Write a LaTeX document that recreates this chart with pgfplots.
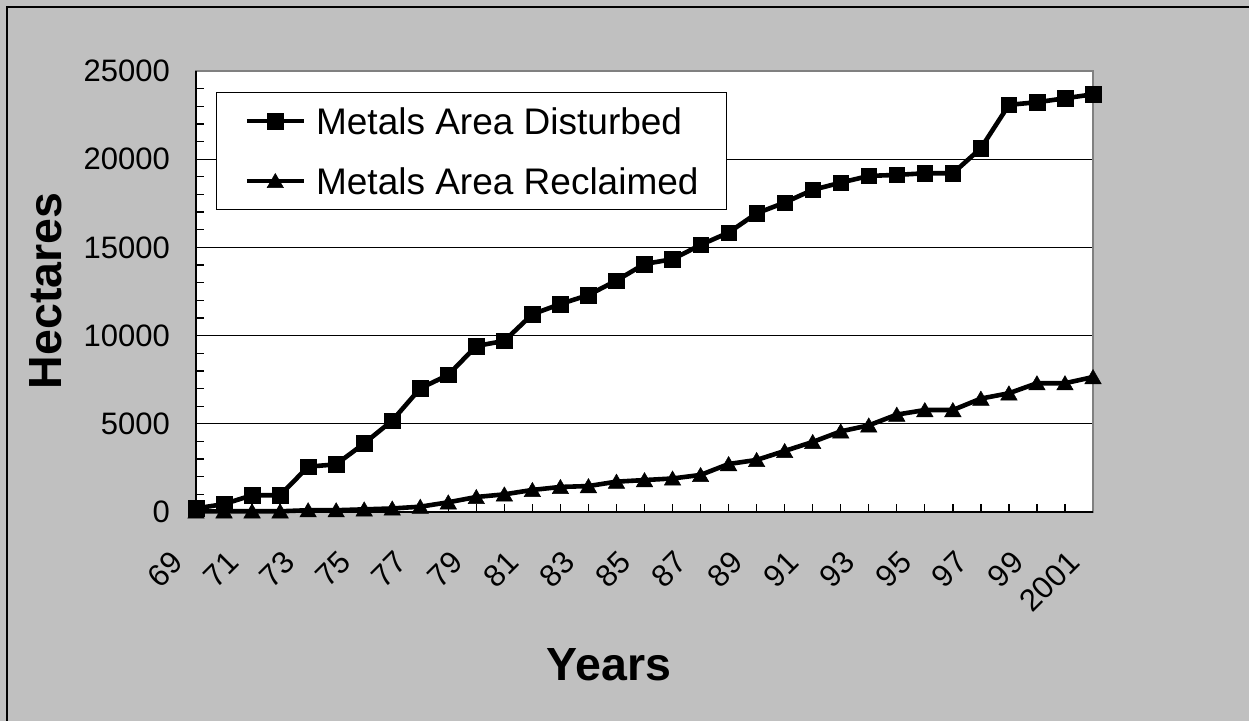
\documentclass[border=0pt]{standalone}
\usepackage{pgfplots}
\pgfplotsset{compat=1.18}
\usepackage{fontspec}
\setmainfont{Liberation Sans}
\definecolor{bg}{HTML}{C0C0C0}
\definecolor{framegray}{HTML}{808080}
\begin{document}
\begin{tikzpicture}[x=1bp,y=1bp]
\useasboundingbox (0,0) rectangle (1249,721);
\fill[bg] (0,0) rectangle (1249,721);
\draw[black, line width=1.2bp] (7,0) -- (7,714) -- (1249,714);
\begin{axis}[
  at={(196bp,209bp)}, anchor=south west,
  scale only axis, width=897bp, height=441bp,
  xmin=0, xmax=32, ymin=0, ymax=25000,
  clip=false,
  scaled y ticks=false,
  axis background/.style={fill=white},
  axis line style={draw=framegray, line width=1.5bp},
  xtick={0,...,32},
  xticklabels={69,,71,,73,,75,,77,,79,,81,,83,,85,,87,,89,,91,,93,,95,,97,,99,,2001},
  ytick={0,5000,10000,15000,20000,25000},
  yticklabels={0,5000,10000,15000,20000,25000},
  minor y tick num=4,
  tick pos=left,
  tick align=inside,
  major tick length=8bp, minor tick length=8bp,
  tick style={black, line width=1.3bp},
  ymajorgrids, grid style={black, line width=1bp},
  yticklabel style={font=\fontsize{31bp}{36bp}\selectfont, inner sep=0pt, anchor=east, xshift=-26bp},
  xticklabel style={font=\fontsize{31bp}{36bp}\selectfont, inner sep=0pt, xshift=-19bp, yshift=-45bp, anchor=east, rotate=45},
  legend style={at={(0.0223,0.9524)}, anchor=north west, draw=black, line width=1bp, fill=white,
    font=\fontsize{37bp}{44bp}\selectfont, inner xsep=28bp, inner ysep=15bp, row sep=33bp, column sep=10bp,
    nodes={inner sep=0pt, text height=27bp, text depth=0pt}},
  legend cell align=left,
  legend image code/.code={\draw[mark repeat=2,mark phase=2,#1] plot coordinates {(0bp,0bp) (28.5bp,0bp) (57bp,0bp)};},
]
\draw[black, line width=2bp] (rel axis cs:0,1) -- (rel axis cs:0,0) -- (rel axis cs:1,0);
\addplot[black, line width=4.6bp, mark=square*, mark size=7.8bp, mark options={line width=0.5bp}] coordinates {
(0,200) (1,450) (2,950) (3,950) (4,2570) (5,2700) (6,3890) (7,5180) (8,7010) (9,7770)
(10,9410) (11,9700) (12,11210) (13,11790) (14,12300) (15,13120) (16,14060) (17,14330)
(18,15140) (19,15840) (20,16930) (21,17540) (22,18260) (23,18670) (24,19050) (25,19110)
(26,19200) (27,19200) (28,20620) (29,23080) (30,23230) (31,23450) (32,23680)
};
\addlegendentry{Metals Area Disturbed}
\addplot[black, line width=4.6bp, mark=triangle*, mark size=9.5bp, mark options={line width=0.5bp, yshift=-2bp}] coordinates {
(0,30) (1,40) (2,40) (3,40) (4,100) (5,100) (6,150) (7,200) (8,300) (9,550)
(10,850) (11,1000) (12,1250) (13,1420) (14,1470) (15,1720) (16,1810) (17,1900)
(18,2100) (19,2720) (20,2950) (21,3460) (22,3970) (23,4570) (24,4910) (25,5520)
(26,5780) (27,5780) (28,6430) (29,6730) (30,7300) (31,7300) (32,7650)
};
\addlegendentry{Metals Area Reclaimed}
\end{axis}
\node[font=\fontsize{46.5bp}{50bp}\selectfont\bfseries, rotate=90, inner sep=0pt] at (46,430) {Hectares};
\node[font=\fontsize{46.5bp}{50bp}\selectfont\bfseries, inner sep=0pt] at (609,56) {Years};
\end{tikzpicture}
\end{document}
